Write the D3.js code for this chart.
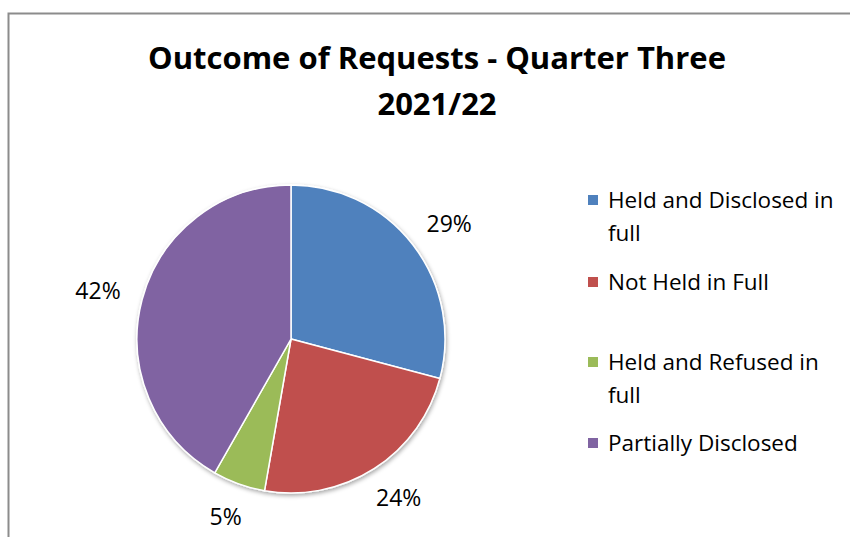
<!DOCTYPE html>
<html>
<head>
<meta charset="utf-8">
<script src="https://d3js.org/d3.v7.min.js"></script>
<style>
    body { margin: 0; background: #fff; font-family: "Open Sans", "Noto Sans", sans-serif; }
</style>
</head>
<body>
<svg id="svg"></svg>
<script>
    let categories = ['Held and Disclosed in full', 'Not Held in Full', 'Held and Refused in full', 'Partially Disclosed'];
    let legendLines = [['Held and Disclosed in', 'full'], ['Not Held in Full'], ['Held and Refused in', 'full'], ['Partially Disclosed']];
    // counts (labels show 29/24/5/42 %)
    let values = [53, 43, 10, 76];
    let colors = ['#4F81BD', '#C0504D', '#9BBB59', '#8064A2'];
    let titleLines = ['Outcome of Requests - Quarter Three', '2021/22'];

    let visWidth = 850;
    let visHeight = 537;
    let svg = d3.select('#svg').attr('width', visWidth).attr('height', visHeight);

    // chart frame (only top/left edges are visible in the crop)
    svg.append('path')
        .attr('d', 'M8.5,' + visHeight + ' V13.5 H' + visWidth)
        .attr('fill', 'none')
        .attr('stroke', '#8c8c8c')
        .attr('stroke-width', 2);

    svg.selectAll('.title')
        .data(titleLines)
        .enter()
        .append('text')
        .attr('class', 'title')
        .attr('x', 437)
        .attr('y', (d, i) => 69 + i * 46)
        .attr('text-anchor', 'middle')
        .style('font-size', '31px')
        .style('font-weight', 'bold')
        .text(d => d);

    let defs = svg.append('defs');
    let filter = defs.append('filter').attr('id', 'shadow').attr('x', '-10%').attr('y', '-10%').attr('width', '120%').attr('height', '120%');
    filter.append('feDropShadow').attr('dx', 1).attr('dy', 2).attr('stdDeviation', 2).attr('flood-color', '#000').attr('flood-opacity', 0.35);

    let cx = 291, cy = 339, radius = 154;
    let total = d3.sum(values);
    let pie = d3.pie().sort(null).value(d => d)(values);
    let arc = d3.arc().innerRadius(0).outerRadius(radius);
    let labelArc = d3.arc().innerRadius(177).outerRadius(177);

    let g = svg.append('g').attr('transform', `translate(${cx}, ${cy})`);

    g.append('g').attr('filter', 'url(#shadow)')
        .selectAll('path')
        .data(pie)
        .enter()
        .append('path')
        .attr('d', arc)
        .attr('fill', (d, i) => colors[i])
        .attr('stroke', '#fff')
        .attr('stroke-width', 1.5);

    // outside-end labels: box pushed outward from the anchor point
    g.selectAll('.plabel')
        .data(pie)
        .enter()
        .append('text')
        .attr('class', 'plabel')
        .attr('text-anchor', 'middle')
        .attr('dy', '0.35em')
        .style('font-size', '23px')
        .text(d => Math.round(d.value / total * 100) + '%')
        .attr('transform', function(d) {
            let p = labelArc.centroid(d);
            let a = (d.startAngle + d.endAngle) / 2;
            let w = this.getComputedTextLength();
            let x = p[0] + Math.sin(a) * w / 2;
            let y = p[1] - Math.cos(a) * 12;
            return `translate(${x}, ${y})`;
        });

    let legendY = [200, 282, 362, 443];
    let legend = svg.selectAll('.legend')
        .data(categories)
        .enter()
        .append('g')
        .attr('class', 'legend')
        .attr('transform', (d, i) => `translate(588, ${legendY[i]})`);

    legend.append('rect')
        .attr('x', 0)
        .attr('y', -5)
        .attr('width', 10)
        .attr('height', 10)
        .attr('fill', (d, i) => colors[i]);

    legend.each(function(d, i) {
        let t = d3.select(this).append('text')
            .attr('x', 20)
            .style('font-size', '22.5px');
        legendLines[i].forEach((line, j) => {
            t.append('tspan')
                .attr('x', 20)
                .attr('y', j * 33)
                .attr('dy', '0.35em')
                .text(line);
        });
    });
</script>
</body>
</html>
